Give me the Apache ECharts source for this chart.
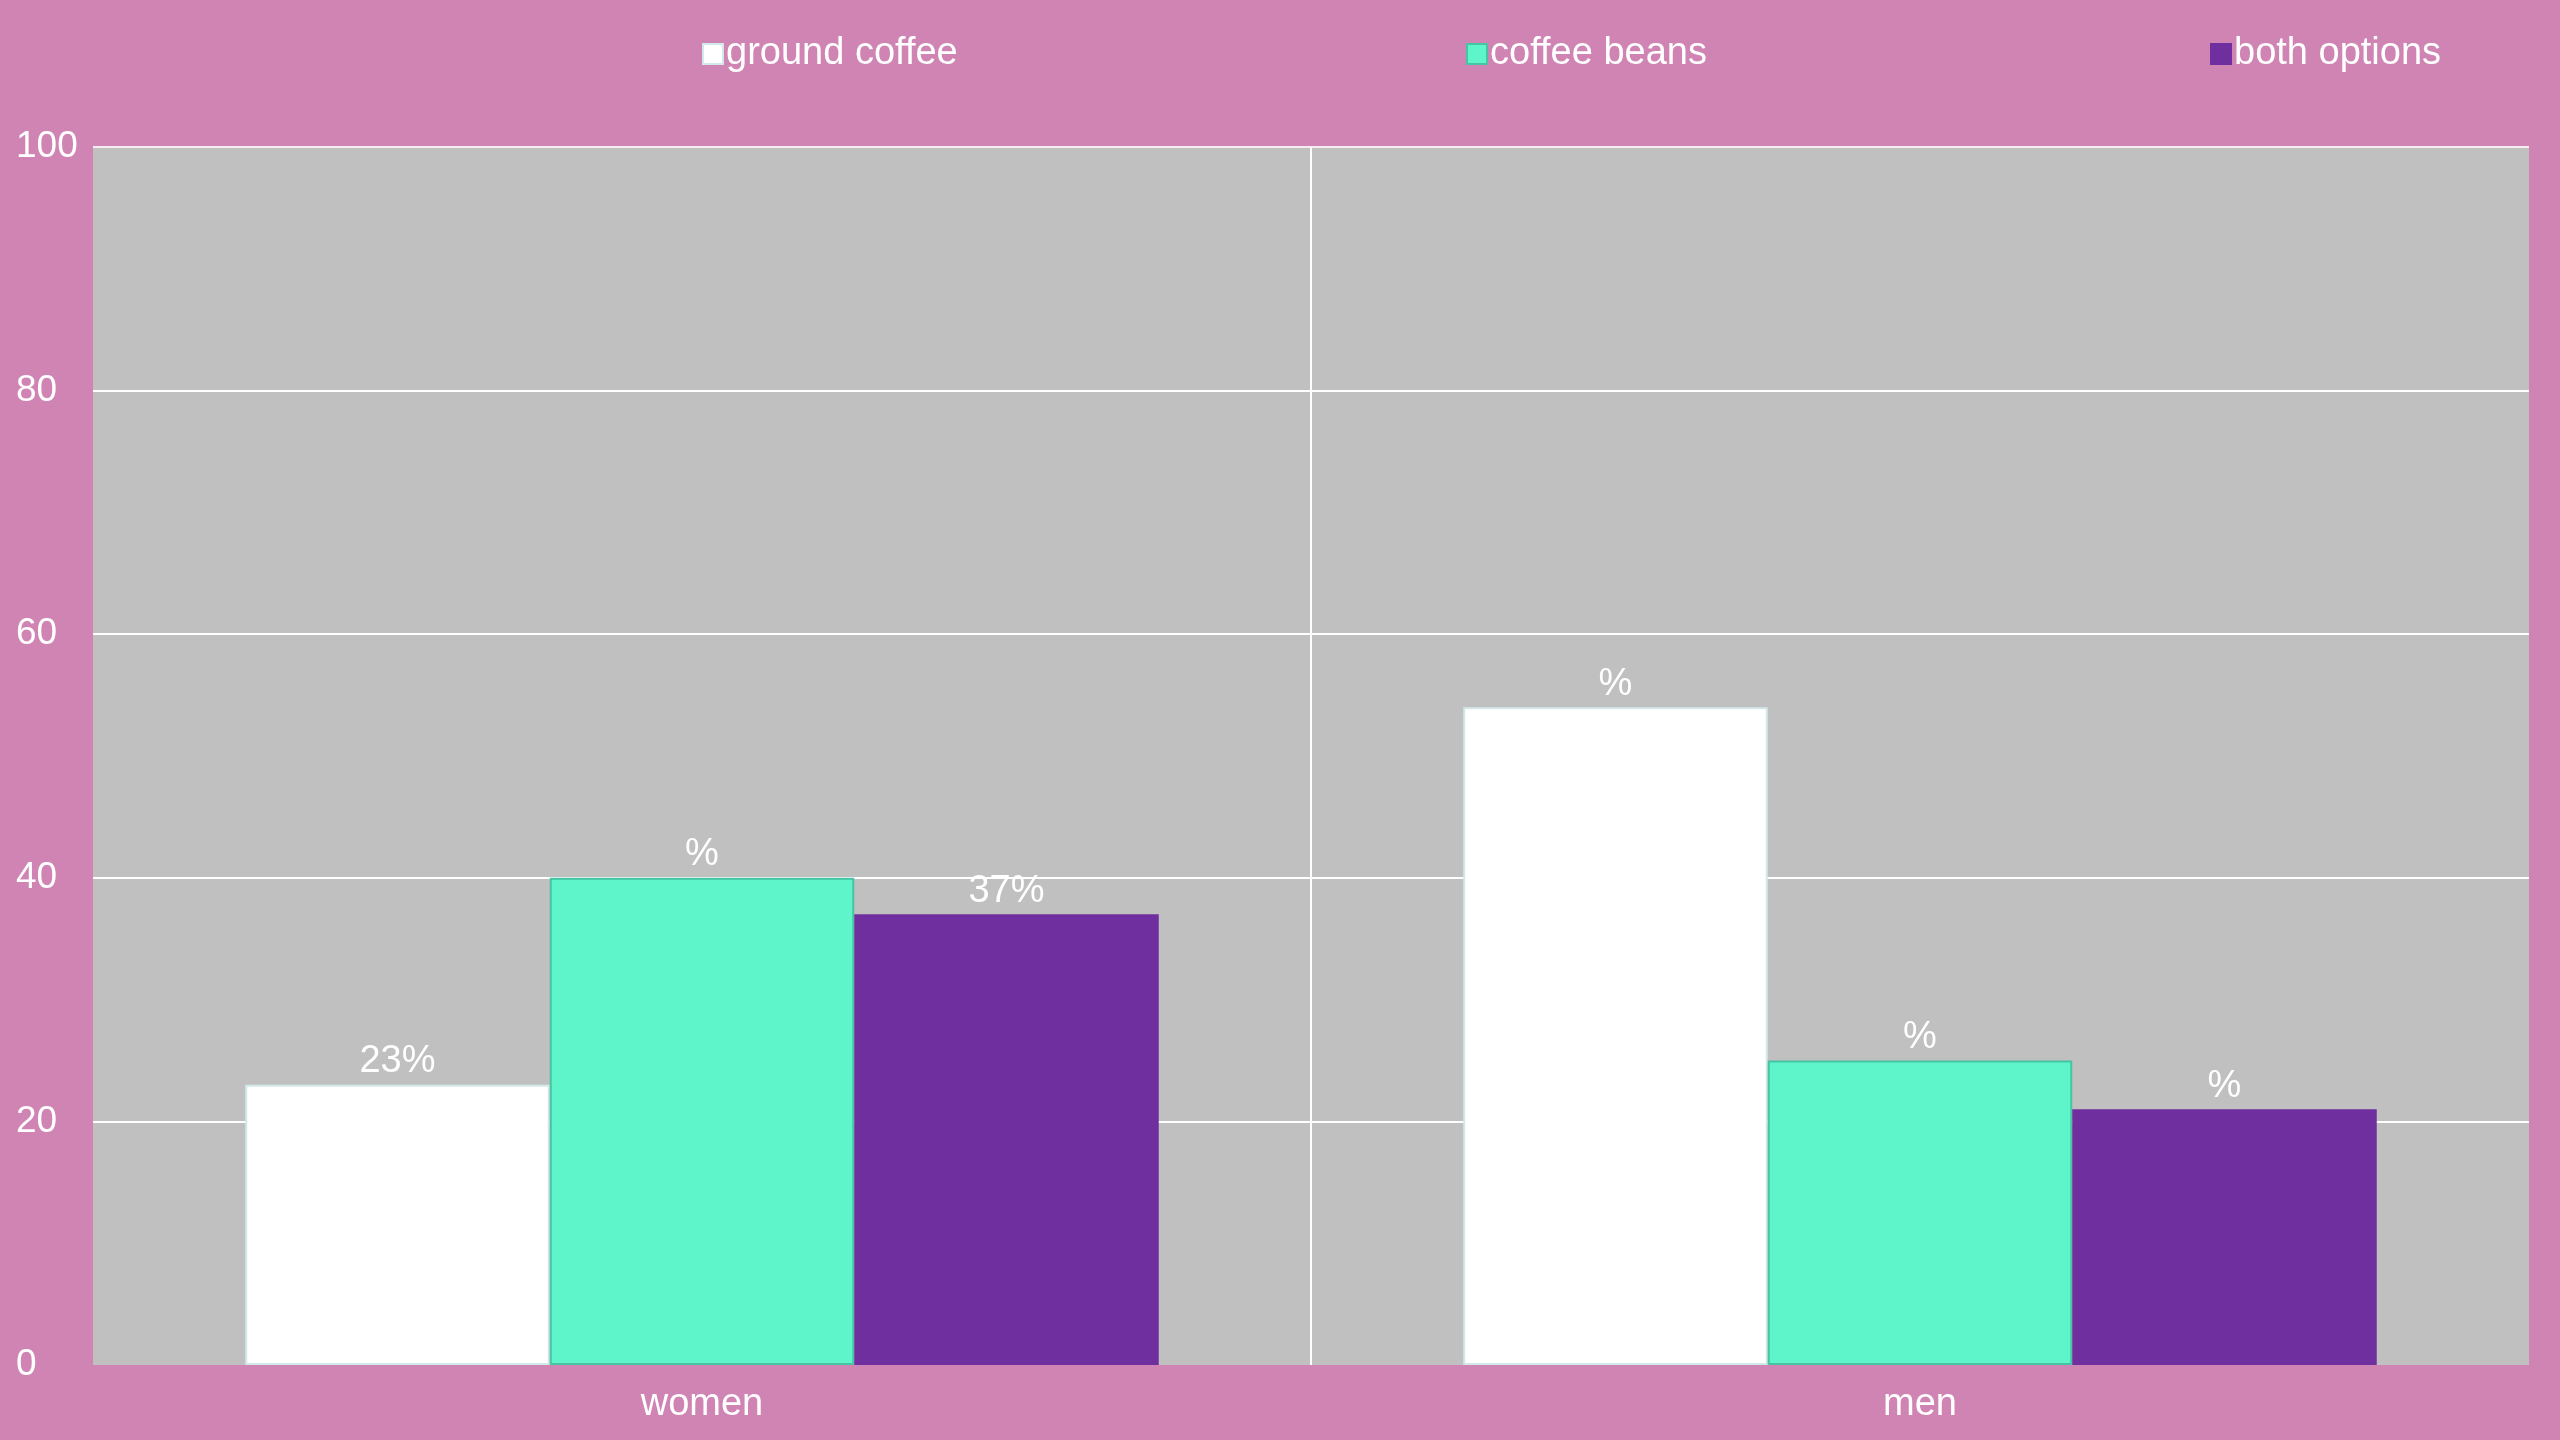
<!DOCTYPE html>
<html>
<head>
<meta charset="utf-8">
<script src="https://cdn.jsdelivr.net/npm/echarts@6/dist/echarts.min.js"></script>
<style>
html,body{margin:0;padding:0;background:#cf84b4;}
#chart{width:2560px;height:1440px;}
</style>
</head>
<body>
<div id="chart"></div>
<script>
const categories = ['women', 'men'];
const seriesNames = ['ground coffee', 'coffee beans', 'both options'];
const groundCoffee = [23, 54];
const coffeeBeans = [40, 25];
const bothOptions = [37, 21];
const groundLabels = ['23%', '%'];
const beansLabels = ['%', '%'];
const bothLabels = ['37%', '%'];
const yTicks = [0, 20, 40, 60, 80, 100];

const FONT = '"Liberation Sans", Arial, sans-serif';
const TXT = '#ffffff';
const colors = ['#ffffff', '#5ef5cb', '#6f2f9f'];
const borders = ['#d3e8e8', '#46c4a3', '#6f2f9f'];
const values = [groundCoffee, coffeeBeans, bothOptions];
const labels = [groundLabels, beansLabels, bothLabels];
const legendLeft = [702, 1466, 2210];

const chart = echarts.init(document.getElementById('chart'));
chart.setOption({
  backgroundColor: '#cf84b4',
  animation: false,
  textStyle: { fontFamily: FONT },
  legend: seriesNames.map((n, i) => ({
    data: [n],
    left: legendLeft[i],
    top: 35,
    padding: 0,
    icon: 'rect',
    itemWidth: 20,
    itemHeight: 20,
    textStyle: { color: TXT, fontSize: 38, fontFamily: FONT, padding: [0, 0, 0, -2] }
  })),
  grid: {
    left: 93, right: 31, top: 147, bottom: 75,
    show: true, backgroundColor: '#c0c0c0', borderWidth: 0,
    containLabel: false
  },
  xAxis: {
    type: 'category',
    data: categories,
    axisLine: { show: false },
    axisTick: { show: false },
    axisLabel: { color: TXT, fontSize: 38, fontFamily: FONT, margin: 21 },
    splitLine: { show: true, lineStyle: { color: ['rgba(0,0,0,0)', '#ffffff', 'rgba(0,0,0,0)'], width: 2 } }
  },
  yAxis: {
    type: 'value',
    min: 0, max: 100, interval: 20,
    axisLine: { show: false },
    axisTick: { show: false },
    axisLabel: {
      color: TXT, fontSize: 37, fontFamily: FONT, align: 'left', margin: 77,
      padding: [6, 0, 0, 0],
      formatter: v => yTicks.includes(v) ? String(v) : ''
    },
    splitLine: { show: true, lineStyle: { color: ['rgba(0,0,0,0)', '#ffffff', '#ffffff', '#ffffff', '#ffffff', '#f4eef2'], width: 2 } }
  },
  series: seriesNames.map((n, i) => ({
    name: n,
    type: 'bar',
    barGap: '0%',
    barCategoryGap: '25%',
    data: values[i],
    itemStyle: { color: colors[i], borderColor: borders[i], borderWidth: 2 },
    label: {
      show: true, position: 'top', distance: 4,
      color: TXT, fontSize: 38, fontFamily: FONT,
      formatter: p => labels[i][p.dataIndex]
    }
  }))
});
</script>
</body>
</html>
